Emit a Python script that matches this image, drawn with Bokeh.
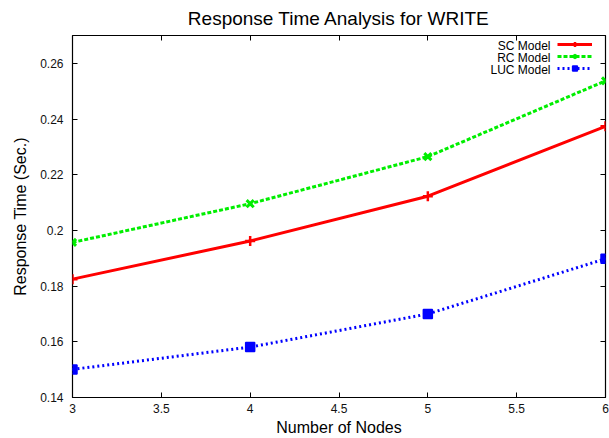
from bokeh.plotting import figure
from bokeh.models import (Range1d, LinearAxis, Legend, LegendItem, Label,
                          FixedTicker, NumeralTickFormatter, CustomJSTickFormatter)
from bokeh.embed import file_html
from bokeh.resources import INLINE

# ---- data ----
nodes = [3, 4, 5, 6]
sc_model = [0.1825, 0.1962, 0.2123, 0.2374]
rc_model = [0.1957, 0.2096, 0.2265, 0.2537]
luc_model = [0.1501, 0.1581, 0.1700, 0.1898]
series_names = ["SC Model", "RC Model", "LUC Model"]
x_ticks = [3, 3.5, 4, 4.5, 5, 5.5, 6]
y_ticks = [0.14, 0.16, 0.18, 0.2, 0.22, 0.24, 0.26]

FONT = "Liberation Sans"

p = figure(width=609, height=438, output_backend="svg", toolbar_location=None,
           x_range=Range1d(3, 6), y_range=Range1d(0.14, 0.27),
           min_border_left=72, min_border_right=4, min_border_top=35,
           min_border_bottom=40,
           title="Response Time Analysis for WRITE")

p.title.align = "center"
p.title.vertical_align = "top"
p.title.text_font = FONT
p.title.text_font_size = "19px"
p.title.text_font_style = "normal"
p.title.text_color = "black"
p.title.standoff = 10

p.xgrid.visible = False
p.ygrid.visible = False
p.outline_line_color = "black"
p.outline_line_width = 1.2
p.background_fill_color = "white"
p.border_fill_color = "white"

xa = p.xaxis[0]
xa.ticker = FixedTicker(ticks=x_ticks)
xa.formatter = NumeralTickFormatter(format="0.[0]")
xa.axis_label = "Number of Nodes"
ya = p.yaxis[0]
ya.ticker = FixedTicker(ticks=y_ticks)
ya.formatter = NumeralTickFormatter(format="0.[00]")
ya.axis_label = "Response Time (Sec.)"

for ax in (xa, ya):
    ax.axis_line_color = None
    ax.major_tick_in = 5
    ax.major_tick_out = 0
    ax.major_tick_line_color = "black"
    ax.minor_tick_line_color = None
    ax.major_label_text_font = FONT
    ax.major_label_text_font_size = "12px"
    ax.major_label_text_color = "#111111"
    ax.axis_label_text_font = FONT
    ax.axis_label_text_font_size = "16px"
    ax.axis_label_text_font_style = "normal"
    ax.axis_label_text_color = "black"
xa.major_label_standoff = 6
xa.axis_label_standoff = 3
ya.major_label_standoff = 9
ya.axis_label_standoff = 8

# mirrored tick marks on the right and top (no labels)
for loc, ticks in (("right", y_ticks), ("above", x_ticks)):
    m = LinearAxis(ticker=FixedTicker(ticks=ticks),
                   formatter=CustomJSTickFormatter(code="return ''"),
                   major_label_standoff=0,
                   major_tick_in=5, major_tick_out=0,
                   major_tick_line_color="black",
                   minor_tick_line_color=None, axis_line_color=None)
    p.add_layout(m, loc)

# ---- series ----
sc_l = p.line(nodes, sc_model, line_color="#ff0000", line_width=3)
sc_s = p.scatter(nodes, sc_model, marker="cross", size=10,
                 line_color="#ff0000", line_width=2.5)
rc_l = p.line(nodes, rc_model, line_color="#00ee00", line_width=3,
              line_dash="4 2")
rc_s = p.scatter(nodes, rc_model, marker="x", size=10,
                 line_color="#00ee00", line_width=3)
luc_l = p.line(nodes, luc_model, line_color="#0000ff", line_width=3,
               line_dash="2 3")
luc_s = p.scatter(nodes, luc_model, marker="square_x", size=9,
                  line_color="#0000ff", fill_color="#0000ff", line_width=1.5)

legend = Legend(items=[LegendItem(label=" ", renderers=[sc_l, sc_s]),
                       LegendItem(label=" ", renderers=[rc_l, rc_s]),
                       LegendItem(label=" ", renderers=[luc_l, luc_s])],
                location=(485, 323), glyph_width=35, glyph_height=12,
                label_width=0, label_height=12, label_standoff=13,
                spacing=0, padding=0, margin=0, border_line_color=None,
                background_fill_alpha=0, label_text_font_size="12px",
                label_text_color=None)
p.add_layout(legend)

for i, name in enumerate(series_names):
    p.add_layout(Label(x=478, y=352 - 12 * i, x_units="screen",
                       y_units="screen", text=name, text_align="right",
                       text_baseline="middle", text_font=FONT,
                       text_font_size="12px", text_color="black"))

open("out.html", "w").write(file_html(p, INLINE))
